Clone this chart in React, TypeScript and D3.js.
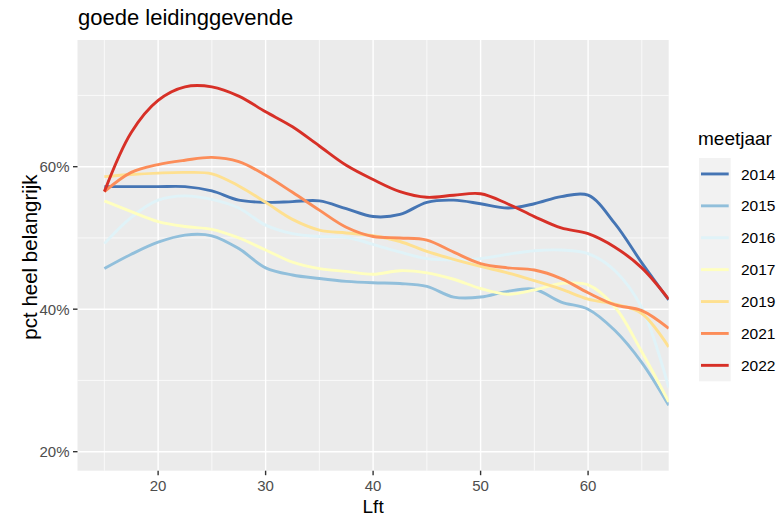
import React from "react";
import * as d3 from "d3";

const ages = [15, 17.5, 20, 22.5, 25, 27.5, 30, 32.5, 35, 37.5, 40, 42.5, 45, 47.5, 50, 52.5, 55, 57.5, 60, 62.5, 65, 67.5];

const years = ["2014", "2015", "2016", "2017", "2019", "2021", "2022"];
const colors = ["#4575b4", "#91bfdb", "#e0f3f8", "#ffffbf", "#fee090", "#fc8d59", "#d73027"];

const v2014 = [57.2, 57.2, 57.2, 57.2, 56.6, 55.3, 55.0, 55.1, 55.2, 54.1, 53.0, 53.3, 55.0, 55.3, 54.8, 54.2, 54.8, 55.8, 56.0, 52.0, 46.5, 41.3];
const v2015 = [45.7, 47.7, 49.4, 50.4, 50.3, 48.5, 45.8, 44.8, 44.3, 43.9, 43.7, 43.6, 43.2, 41.7, 41.7, 42.5, 42.8, 41.0, 40.0, 37.0, 32.5, 26.5];
const v2016 = [49.2, 52.9, 55.3, 55.9, 55.4, 54.2, 51.8, 50.6, 50.2, 50.1, 49.1, 48.0, 47.1, 46.9, 47.1, 47.7, 48.2, 48.3, 47.8, 45.4, 40.2, 29.0];
const v2017 = [55.2, 53.7, 52.3, 51.6, 51.2, 50.0, 48.3, 46.6, 45.7, 45.3, 44.9, 45.4, 45.1, 44.2, 42.9, 42.1, 42.7, 43.6, 43.4, 40.3, 34.0, 27.0];
const v2019 = [58.6, 58.9, 59.1, 59.2, 59.0, 57.3, 55.0, 52.6, 51.1, 50.7, 50.3, 49.5, 48.1, 47.0, 46.0, 45.1, 44.0, 42.8, 41.4, 40.7, 39.4, 34.7];
const v2021 = [56.5, 59.2, 60.3, 60.9, 61.3, 60.7, 58.8, 56.4, 53.9, 51.5, 50.2, 50.0, 49.7, 48.0, 46.4, 45.8, 45.5, 44.3, 42.3, 40.6, 39.8, 37.3];
const v2022 = [56.5, 64.8, 69.3, 71.2, 71.2, 69.9, 67.7, 65.6, 62.9, 60.2, 58.2, 56.5, 55.7, 56.0, 56.2, 54.8, 53.0, 51.4, 50.6, 48.7, 45.8, 41.4];

const seriesValues = [v2014, v2015, v2016, v2017, v2019, v2021, v2022];

const xTicks = [20, 30, 40, 50, 60];
const xMinor = [15, 25, 35, 45, 55, 65];
const yTicks = [20, 40, 60];
const yMinor = [30, 50, 70];

const title = "goede leidinggevende";
const xTitle = "Lft";
const yTitle = "pct heel belangrijk";
const legendTitle = "meetjaar";

export default function App() {
  const W = 780, H = 521;
  const pL = 77.5, pR = 668.7, pT = 40, pB = 470.7;
  const x = d3.scaleLinear().domain([12.5, 67.5]).range([pL, pR]);
  const y = d3.scaleLinear().domain([17.33, 77.78]).range([pB, pT]);
  const line = d3
    .line<number>()
    .x((_, i) => x(ages[i]))
    .y((d) => y(d))
    .curve(d3.curveCatmullRom.alpha(0.5));

  const font = "'Liberation Sans', Arial, sans-serif";
  const legX = 699, legY = 158, keyH = 31.9, keyW = 31.7;

  return (
    <div style={{ position: "absolute", left: 0, top: 0 }}>
      <svg width={W} height={H} style={{ display: "block", background: "#fff" }} fontFamily={font}>
        <defs>
          <clipPath id="panel">
            <rect x={pL} y={pT} width={pR - pL} height={pB - pT} />
          </clipPath>
        </defs>
        <rect x={pL} y={pT} width={pR - pL} height={pB - pT} fill="#EBEBEB" />
        {yMinor.map((t) => (
          <line key={"ym" + t} x1={pL} x2={pR} y1={y(t)} y2={y(t)} stroke="#fff" strokeWidth={0.7} />
        ))}
        {xMinor.map((t) => (
          <line key={"xm" + t} x1={x(t)} x2={x(t)} y1={pT} y2={pB} stroke="#fff" strokeWidth={0.7} />
        ))}
        {yTicks.map((t) => (
          <line key={"yM" + t} x1={pL} x2={pR} y1={y(t)} y2={y(t)} stroke="#fff" strokeWidth={1.4} />
        ))}
        {xTicks.map((t) => (
          <line key={"xM" + t} x1={x(t)} x2={x(t)} y1={pT} y2={pB} stroke="#fff" strokeWidth={1.4} />
        ))}
        <g clipPath="url(#panel)">
          {seriesValues.map((vals, i) => (
            <path key={years[i]} d={line(vals) || ""} fill="none" stroke={colors[i]} strokeWidth={2.9} strokeLinejoin="round" strokeLinecap="butt" />
          ))}
        </g>
        {yTicks.map((t) => (
          <g key={"yt" + t}>
            <line x1={pL - 4.5} x2={pL} y1={y(t)} y2={y(t)} stroke="#333" strokeWidth={1.4} />
            <text x={pL - 8} y={y(t)} dy="0.36em" textAnchor="end" fontSize={15} fill="#4D4D4D">
              {t + "%"}
            </text>
          </g>
        ))}
        {xTicks.map((t) => (
          <g key={"xt" + t}>
            <line x1={x(t)} x2={x(t)} y1={pB} y2={pB + 4.5} stroke="#333" strokeWidth={1.4} />
            <text x={x(t)} y={pB + 20.5} textAnchor="middle" fontSize={15} fill="#4D4D4D">
              {t}
            </text>
          </g>
        ))}
        <text x={(pL + pR) / 2} y={513} textAnchor="middle" fontSize={19} fill="#000">
          {xTitle}
        </text>
        <text transform={`translate(${37},${257}) rotate(-90)`} textAnchor="middle" fontSize={20.5} fill="#000">
          {yTitle}
        </text>
        <text x={78} y={25} fontSize={22} fill="#000">
          {title}
        </text>
        <text x={698} y={145} fontSize={19} fill="#000">
          {legendTitle}
        </text>
        <rect x={legX} y={legY} width={keyW} height={keyH * years.length} fill="#F2F2F2" />
        {years.map((yr, i) => {
          const cy = legY + keyH * (i + 0.5);
          return (
            <g key={"lg" + yr}>
              <line x1={legX + 2} x2={legX + keyW - 2} y1={cy} y2={cy} stroke={colors[i]} strokeWidth={2.9} />
              <text x={741} y={cy} dy="0.36em" fontSize={15.5} fill="#000">
                {yr}
              </text>
            </g>
          );
        })}
      </svg>
    </div>
  );
}
